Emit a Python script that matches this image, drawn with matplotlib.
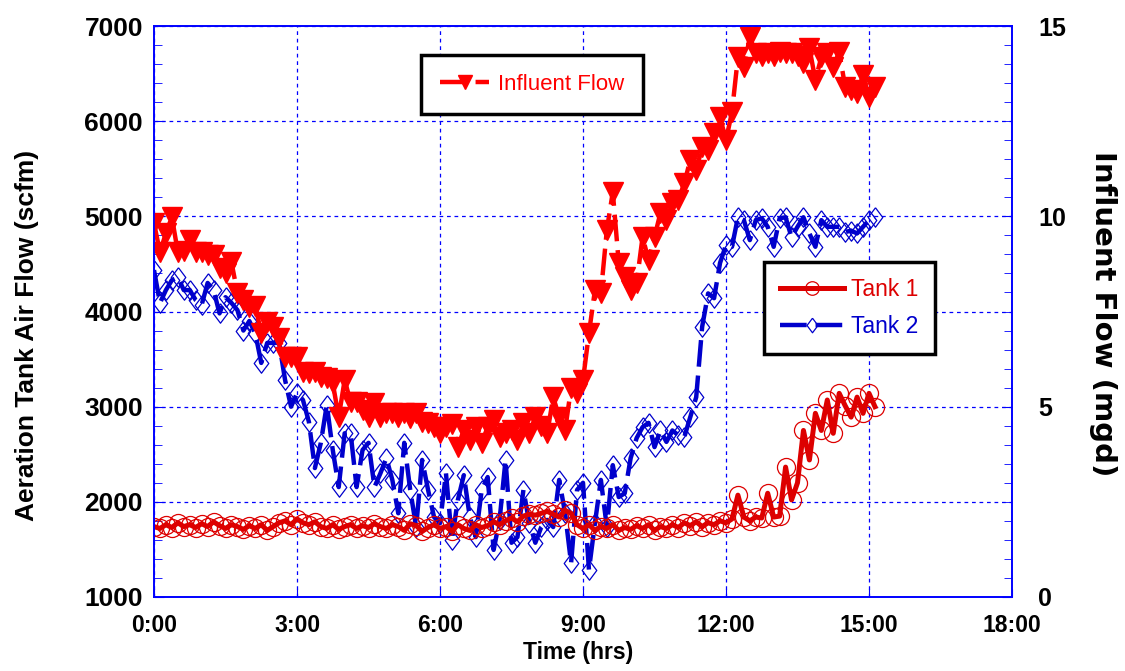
import numpy as np
import matplotlib
matplotlib.use("Agg")
import matplotlib.pyplot as plt
from matplotlib.ticker import MultipleLocator, FuncFormatter

# sampling: one reading every 7.5 min (0.125 h), 0:00 to ~15:08
step_h = 0.125
n_pts = 122

# aeration tank air flow, scfm (one row = one hour)
tank1 = [
    1740, 1720, 1760, 1730, 1780, 1740, 1760, 1730,
    1770, 1740, 1790, 1750, 1720, 1760, 1740, 1710,
    1750, 1720, 1760, 1700, 1740, 1780, 1800, 1760,
    1820, 1780, 1760, 1790, 1740, 1720, 1760, 1710,
    1740, 1760, 1720, 1750, 1730, 1770, 1740, 1720,
    1760, 1740, 1700, 1770, 1750, 1690, 1730, 1760,
    1720, 1740, 1690, 1760, 1720, 1700, 1760, 1730,
    1750, 1790, 1760, 1800, 1830, 1790, 1850, 1870,
    1860, 1880, 1900, 1870, 1840, 1910, 1880, 1760,
    1720, 1760, 1700, 1740, 1720, 1760, 1700, 1730,
    1710, 1750, 1720, 1760, 1700, 1740, 1720, 1760,
    1730, 1780, 1750, 1790, 1740, 1780, 1760, 1800,
    1780, 1820, 2070, 1840, 1800, 1840, 1830, 2090,
    1840, 1850, 2365, 2020, 2200, 2750, 2440, 2930,
    2750, 3070, 2720, 3140, 3010, 2890, 3100, 2930,
    3140, 3000,
]
tank2 = [
    4435, 4090, 4225, 4330, 4360, 4225, 4225, 4120,
    4070, 4300, 4225, 3980, 4150, 4090, 4015, 3800,
    3900, 3770, 3460, 3670, 3670, 3670, 3280, 3000,
    3140, 3070, 2840, 2355, 2620, 3020, 2545, 2155,
    2720, 2720, 2155, 2545, 2620, 2155, 2300, 2460,
    2230, 1880, 2620, 2125, 1735, 2440, 2125, 1840,
    1775, 2300, 1600, 2020, 2280, 1840, 1630, 2125,
    2260, 1495, 1810, 2440, 1570, 1630, 2125, 1775,
    1570, 1735, 1810, 1735, 2230, 1880, 1355, 2125,
    2200, 1285, 1775, 2230, 1735, 2385, 2050, 2090,
    2460, 2670, 2785, 2830, 2575, 2750, 2630, 2750,
    2700, 2680, 2890, 3100, 3840, 4190, 4140, 4510,
    4700, 4680, 4990, 4960, 4750, 4960, 4980, 4890,
    4680, 4980, 4990, 4780, 4890, 4990, 4820, 4680,
    4960, 4890, 4890, 4890, 4835, 4850, 4820, 4890,
    4960, 4990,
]
# influent flow, mgd
influent = [
    9.82, 9.06, 9.56, 9.98, 9.06, 9.10, 9.38, 9.06,
    9.06, 8.98, 8.98, 8.64, 8.51, 8.80, 7.98, 7.80,
    7.62, 7.65, 6.93, 7.22, 7.09, 6.80, 6.30, 6.30,
    6.30, 5.91, 5.88, 5.90, 5.78, 5.75, 5.62, 4.73,
    5.70, 5.12, 5.12, 4.90, 4.73, 5.10, 4.73, 4.83,
    4.83, 4.73, 4.83, 4.70, 4.83, 4.60, 4.57, 4.47,
    4.30, 4.47, 4.55, 3.94, 4.39, 4.12, 4.47, 4.04,
    4.47, 4.65, 4.20, 4.30, 4.40, 4.12, 4.57, 4.30,
    4.73, 4.50, 4.30, 5.25, 4.73, 4.39, 5.49, 5.36,
    5.70, 6.93, 8.06, 7.98, 9.64, 10.64, 8.77, 8.41,
    8.06, 8.25, 9.46, 8.85, 9.46, 10.09, 9.90, 10.35,
    10.43, 10.87, 11.48, 11.22, 11.82, 11.75, 12.19, 12.60,
    12.00, 12.74, 14.18, 13.92, 14.70, 14.29, 14.20, 14.29,
    14.20, 14.32, 14.29, 14.29, 14.20, 14.03, 14.42, 13.58,
    14.18, 14.29, 13.92, 14.32, 13.40, 13.32, 13.24, 13.70,
    13.13, 13.40,
]
hours = np.arange(n_pts) * step_h

red1 = "#dd0000"
red2 = "#ff0000"
blue = "#0000cc"
arial = ["Liberation Sans", "DejaVu Sans"]

# diamond a bit narrower than tall
diamond = [(0, 1), (0.75, 0), (0, -1), (-0.75, 0), (0, 1)]

fig = plt.figure(figsize=(11.25, 6.71), dpi=100)
ax = fig.add_axes([154 / 1125, 1 - 597 / 671, (1012 - 154) / 1125, (597 - 26) / 671])
ax2 = ax.twinx()

l2, = ax.plot(hours, tank2, color=blue, lw=3.2, ls=(0, (6, 2)), marker=diamond, ms=14,
              mfc="none", mec=blue, mew=0.9, label="Tank 2")
l1, = ax.plot(hours, tank1, color=red1, lw=3.6, marker="o", ms=13,
              mfc="none", mec=red1, mew=0.9, label="Tank 1")
l3, = ax2.plot(hours, influent, color=red2, lw=3.2, ls=(0, (6, 2)), marker="v", ms=14,
               mfc=red2, mec=red2, label="Influent Flow")

ax.set_xlim(0, 18)
ax.set_ylim(1000, 7000)
ax2.set_ylim(0, 15)

ax.xaxis.set_major_locator(MultipleLocator(3))
ax.xaxis.set_major_formatter(FuncFormatter(lambda v, p: "%d:00" % int(round(v))))
ax.yaxis.set_major_locator(MultipleLocator(1000))
ax.yaxis.set_minor_locator(MultipleLocator(200))
ax2.yaxis.set_major_locator(MultipleLocator(5))
ax2.yaxis.set_minor_locator(MultipleLocator(0.5))

ax.grid(True, which="major", color="#0000ff", ls=(0, (3, 3)), lw=0.9)
ax.set_axisbelow(True)

for a in (ax, ax2):
    for s in a.spines.values():
        s.set_color("#0000ff")
        s.set_linewidth(1.2)

ax.tick_params(axis="both", which="both", direction="in", color="#0000ff")
ax.tick_params(axis="y", which="major", length=7, pad=8)
ax.tick_params(axis="y", which="minor", length=6)
ax.tick_params(axis="x", which="major", length=6, pad=12)
ax2.tick_params(axis="y", which="both", direction="in", color="#0000ff")
ax2.tick_params(axis="y", which="major", length=7, pad=19)
ax2.tick_params(axis="y", which="minor", length=6)

for t in ax.get_yticklabels():
    t.set_fontfamily(arial)
    t.set_fontweight("bold")
    t.set_fontsize(19)
for t in ax2.get_yticklabels():
    t.set_fontfamily(arial)
    t.set_fontweight("bold")
    t.set_fontsize(18)
    t.set_horizontalalignment("left")
for t in ax.get_xticklabels():
    t.set_fontfamily(arial)
    t.set_fontweight("bold")
    t.set_fontsize(16.5)

fig.text(578 / 1125, 1 - 652 / 671, "Time (hrs)", ha="center", va="center",
         fontfamily=arial, fontweight="bold", fontsize=16.5)
fig.text(27 / 1125, 1 - 335 / 671, "Aeration Tank Air Flow (scfm)", rotation=90,
         ha="center", va="center", fontfamily=arial, fontweight="bold", fontsize=19)
fig.text(1103 / 1125, 1 - 314 / 671, "Influent Flow (mgd)", rotation=-90,
         ha="center", va="center", fontfamily=["DejaVu Sans"], fontweight="bold", fontsize=21)

leg1 = ax2.legend(handles=[l3], loc="upper right", bbox_to_anchor=(0.570, 0.949),
                  frameon=True, fancybox=False, framealpha=1, edgecolor="black",
                  prop={"family": arial, "size": 16}, handlelength=2.2,
                  markerscale=0.7, borderpad=0.85, handletextpad=0.4, borderaxespad=0)
leg1.get_frame().set_linewidth(2.5)
for t in leg1.get_texts():
    t.set_color(red2)

leg2 = ax2.legend(handles=[l1, l2], loc="upper right", bbox_to_anchor=(0.910, 0.587),
                  frameon=True, fancybox=False, framealpha=1, edgecolor="black",
                  prop={"family": arial, "size": 16.5}, handlelength=2.8,
                  markerscale=0.75, borderpad=0.7, labelspacing=0.6,
                  handletextpad=0.3, borderaxespad=0)
leg2.get_frame().set_linewidth(2.5)
leg2.get_texts()[0].set_color(red1)
leg2.get_texts()[1].set_color(blue)
ax2.add_artist(leg1)

fig.savefig("out.png", dpi=100)
